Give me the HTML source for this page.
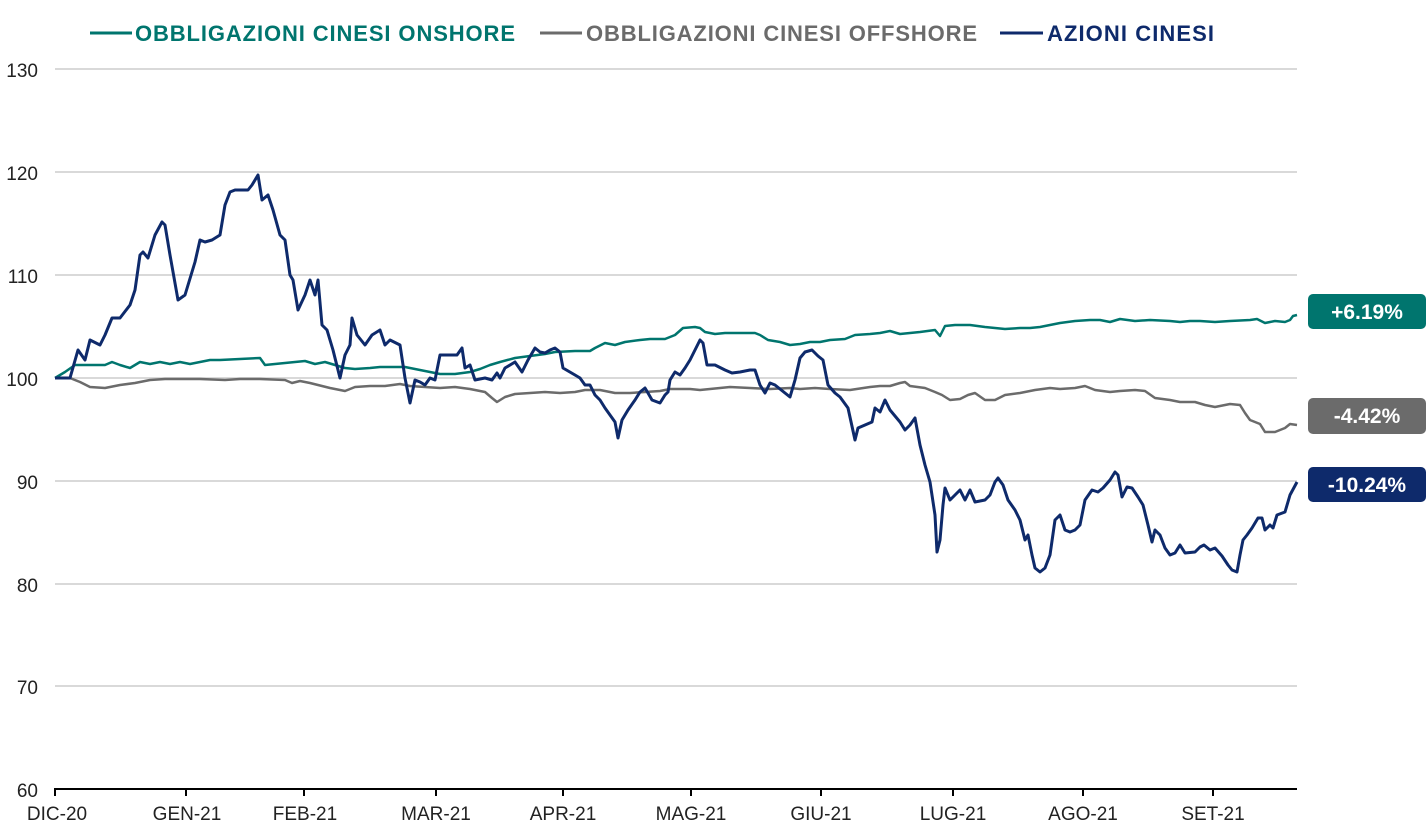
<!DOCTYPE html>
<html><head><meta charset="utf-8"><style>
body{margin:0;background:#fff;}
svg{display:block;font-family:"Liberation Sans",sans-serif;}
</style></head><body>
<svg width="1426" height="827" viewBox="0 0 1426 827">
<g stroke="#d9d9d9" stroke-width="2">
<line x1="55" x2="1297" y1="69" y2="69"/><line x1="55" x2="1297" y1="172" y2="172"/>
<line x1="55" x2="1297" y1="275" y2="275"/><line x1="55" x2="1297" y1="378" y2="378"/>
<line x1="55" x2="1297" y1="481" y2="481"/><line x1="55" x2="1297" y1="584" y2="584"/>
<line x1="55" x2="1297" y1="686" y2="686"/>
</g>
<line x1="54" x2="1297" y1="789" y2="789" stroke="#000" stroke-width="2"/>
<g stroke="#000" stroke-width="2">
<line x1="55" x2="55" y1="789" y2="796"/><line x1="186" x2="186" y1="789" y2="796"/><line x1="304" x2="304" y1="789" y2="796"/><line x1="436" x2="436" y1="789" y2="796"/><line x1="563" x2="563" y1="789" y2="796"/><line x1="691" x2="691" y1="789" y2="796"/><line x1="821" x2="821" y1="789" y2="796"/><line x1="953" x2="953" y1="789" y2="796"/><line x1="1083" x2="1083" y1="789" y2="796"/><line x1="1213" x2="1213" y1="789" y2="796"/>
</g>
<g font-size="19" fill="#222" text-anchor="end">
<text x="38" y="77">130</text><text x="38" y="180">120</text><text x="38" y="283">110</text><text x="38" y="386">100</text><text x="38" y="489">90</text><text x="38" y="592">80</text><text x="38" y="694">70</text><text x="38" y="797">60</text>
</g>
<g font-size="19" fill="#222" text-anchor="middle">
<text x="57" y="820">DIC-20</text><text x="187" y="820">GEN-21</text><text x="305" y="820">FEB-21</text><text x="436" y="820">MAR-21</text><text x="563" y="820">APR-21</text><text x="691" y="820">MAG-21</text><text x="821" y="820">GIU-21</text><text x="953" y="820">LUG-21</text><text x="1083" y="820">AGO-21</text><text x="1213" y="820">SET-21</text>
</g>
<g fill="none" stroke-width="3" stroke-linejoin="round">
<polyline stroke="#6b6b6b" stroke-width="2.5" points="55,378 70,378 80,382 90,387 105,388 120,385 135,383 150,380 165,379 180,379 200,379 225,380 240,379 260,379 285,380 292,383 300,381 310,383 330,388 345,391 355,387 370,386 385,386 400,384 410,386 425,387 440,388 455,387 470,389 485,392 492,398 497,402 505,397 515,394 530,393 545,392 560,393 575,392 585,390 600,390 615,393 630,393 645,392 660,391 670,389 690,389 700,390 710,389 730,387 750,388 770,389 790,388 800,389 815,388 830,389 850,390 870,387 880,386 890,386 900,383 905,382 910,386 925,388 935,392 942,395 950,400 960,399 968,395 975,393 985,400 995,400 1005,395 1020,393 1035,390 1050,388 1060,389 1075,388 1085,386 1095,390 1110,392 1120,391 1135,390 1145,391 1155,398 1170,400 1180,402 1195,402 1205,405 1215,407 1230,404 1240,405 1245,413 1250,420 1260,424 1265,432 1275,432 1285,428 1290,424 1297,425"/>
<polyline stroke="#00756e" stroke-width="2.5" points="55,378 65,372 75,365 85,365 95,365 105,365 112,362 120,365 130,368 140,362 150,364 160,362 170,364 180,362 190,364 200,362 210,360 220,360 240,359 260,358 265,365 275,364 285,363 295,362 305,361 315,364 325,362 335,365 345,368 355,369 370,368 380,367 395,367 405,367 420,370 430,372 440,374 455,374 470,372 480,369 490,365 500,362 515,358 530,356 545,354 555,352 575,351 590,351 595,348 605,343 615,345 625,342 640,340 650,339 665,339 675,335 683,328 695,327 700,328 705,332 715,334 725,333 740,333 755,333 760,335 768,340 780,342 790,345 800,344 810,342 820,342 830,340 845,339 855,335 870,334 880,333 890,331 900,334 910,333 920,332 935,330 940,336 945,326 955,325 970,325 985,327 995,328 1005,329 1020,328 1030,328 1040,327 1050,325 1060,323 1075,321 1090,320 1100,320 1110,322 1120,319 1135,321 1150,320 1170,321 1180,322 1190,321 1200,321 1215,322 1230,321 1250,320 1257,319 1265,323 1275,321 1285,322 1290,320 1293,316 1297,315"/>
<polyline stroke="#0e2a6b" points="55,378 70,378 78,350 85,360 90,340 100,345 105,335 112,318 120,318 130,305 135,290 140,255 143,252 148,258 155,235 162,222 165,225 170,255 178,300 185,295 195,262 200,240 205,242 212,240 220,235 225,205 230,192 235,190 248,190 252,185 258,175 262,200 268,195 273,210 280,235 285,240 290,275 293,280 298,310 305,295 310,280 315,295 318,280 322,325 327,330 333,350 340,378 345,355 350,345 352,318 357,335 365,345 372,335 380,330 385,345 390,340 400,345 405,378 410,403 415,380 420,382 425,385 430,378 435,380 440,355 450,355 457,355 462,348 465,368 470,365 475,380 485,378 492,380 497,373 500,378 505,368 515,362 522,372 528,360 535,348 540,352 545,353 550,350 555,348 560,352 563,368 575,375 580,378 585,385 590,385 595,395 600,400 605,408 610,415 615,422 618,438 622,420 628,410 635,400 640,392 645,388 648,393 652,400 660,403 665,395 668,392 670,380 675,372 680,375 685,368 690,360 695,350 700,340 703,343 707,365 715,365 725,370 732,373 740,372 750,370 755,370 760,385 765,393 770,383 775,385 785,393 790,397 795,380 800,358 805,352 812,350 818,356 823,360 828,385 835,393 840,397 848,408 855,440 858,428 865,425 872,422 875,408 880,412 885,400 890,410 895,416 900,422 905,430 910,425 915,418 920,445 925,465 930,482 935,515 937,552 940,540 943,505 945,488 950,500 955,495 960,490 965,500 970,490 975,502 985,500 990,495 995,482 998,478 1003,485 1008,500 1015,510 1020,520 1025,540 1028,535 1032,555 1035,568 1040,572 1045,568 1050,555 1055,520 1060,515 1065,530 1070,532 1075,530 1080,525 1085,500 1092,490 1098,492 1103,488 1110,480 1115,472 1118,475 1122,497 1127,487 1132,488 1138,497 1143,505 1148,525 1152,542 1155,530 1160,535 1165,548 1170,555 1175,553 1180,545 1185,553 1195,552 1200,547 1204,545 1210,550 1215,548 1222,556 1228,565 1232,570 1237,572 1240,555 1243,540 1247,535 1252,528 1258,518 1262,518 1265,530 1270,525 1273,528 1277,515 1285,512 1290,495 1297,482"/>
</g>
<g font-size="22" font-weight="bold">
<line x1="90" x2="132" y1="33" y2="33" stroke="#00756e" stroke-width="3"/>
<text x="135" y="41" fill="#00756e" textLength="380">OBBLIGAZIONI CINESI ONSHORE</text>
<line x1="540" x2="582" y1="33" y2="33" stroke="#6b6b6b" stroke-width="3"/>
<text x="586" y="41" fill="#6b6b6b" textLength="391">OBBLIGAZIONI CINESI OFFSHORE</text>
<line x1="1000" x2="1043" y1="33" y2="33" stroke="#0e2a6b" stroke-width="3"/>
<text x="1047" y="41" fill="#0e2a6b" textLength="167">AZIONI CINESI</text>
</g>
<g font-size="21" font-weight="bold" fill="#fff" text-anchor="middle">
<rect x="1308" y="294" width="118" height="35" rx="5" fill="#00756e"/><text x="1367" y="319">+6.19%</text>
<rect x="1308" y="398" width="118" height="36" rx="5" fill="#6b6b6b"/><text x="1367" y="423">-4.42%</text>
<rect x="1308" y="467" width="118" height="35" rx="5" fill="#0e2a6b"/><text x="1367" y="492">-10.24%</text>
</g>
</svg>
</body></html>
